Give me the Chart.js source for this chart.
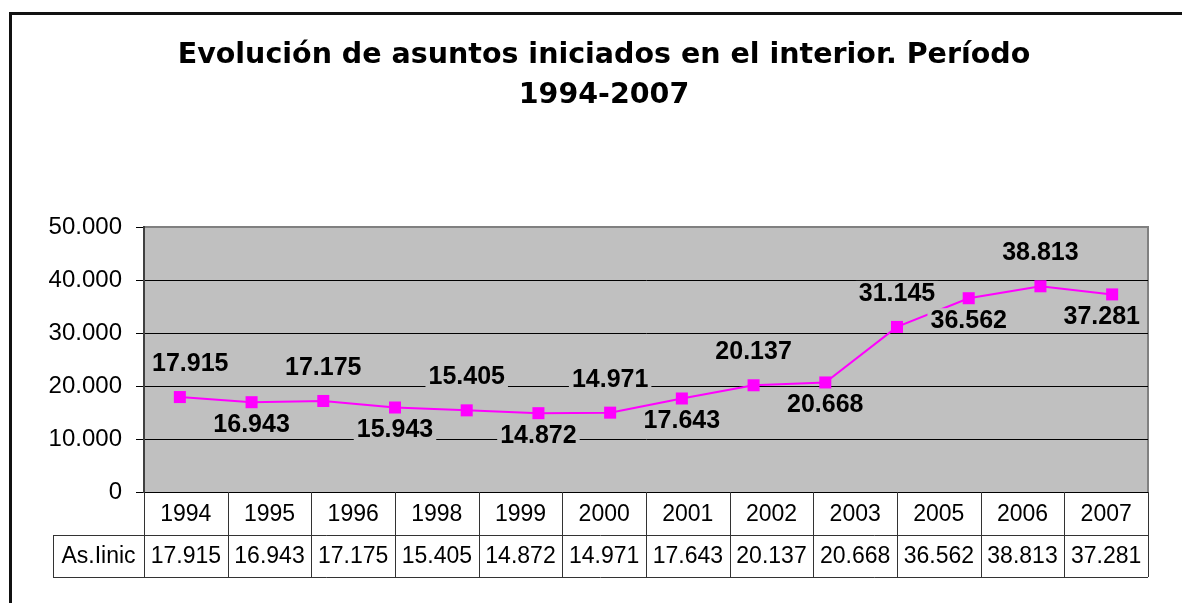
<!DOCTYPE html>
<html>
<head>
<meta charset="utf-8">
<script src="https://cdn.jsdelivr.net/npm/chart.js@4.4.0/dist/chart.umd.min.js"></script>
<style>
  html, body { margin: 0; padding: 0; background: #fff; }
  #myChart { display: block; }
</style>
</head>
<body>
<canvas id="myChart" width="1182" height="603"></canvas>
<script>
// valores de la serie dibujada (14 puntos)
const valoresLinea = [17915, 16943, 17175, 15943, 15405, 14872, 14971, 17643, 20137, 20668, 31145, 36562, 38813, 37281]

// tabla de datos bajo el grafico
const anios = ['1994', '1995', '1996', '1998', '1999', '2000', '2001', '2002', '2003', '2005', '2006', '2007']
const valoresTabla = [17915, 16943, 17175, 15405, 14872, 14971, 17643, 20137, 20668, 36562, 38813, 37281]
const nombreSerie = 'As.Iinic'

const ticksY = [0, 10000, 20000, 30000, 40000, 50000]

const GRIS = '#C0C0C0'
const MAGENTA = '#FF00FF'

function formato(v) {
  return String(v).replace(/\B(?=(\d{3})+(?!\d))/g, '.')
}

const ctx = document.getElementById('myChart').getContext('2d')

// fondo, marco y area gris
const fondo = {
  id: 'fondo',
  beforeDraw(chart) {
    const c = chart.ctx
    const a = chart.chartArea
    c.save()
    c.fillStyle = '#fff'
    c.fillRect(0, 0, chart.width, chart.height)
    c.strokeStyle = '#111'
    c.lineWidth = 3
    c.beginPath()
    c.moveTo(10.5, chart.height)
    c.lineTo(10.5, 13.5)
    c.lineTo(chart.width, 13.5)
    c.stroke()
    c.fillStyle = GRIS
    c.fillRect(a.left, a.top, a.right - a.left, a.bottom - a.top)
    c.strokeStyle = '#808080'
    c.lineWidth = 2
    c.beginPath()
    c.moveTo(a.left, a.top)
    c.lineTo(a.right, a.top)
    c.lineTo(a.right, a.bottom)
    c.stroke()
    c.restore()
  }
}

// etiquetas de valor sobre/bajo cada punto
const etiquetas = {
  id: 'etiquetas',
  afterDatasetsDraw(chart) {
    const c = chart.ctx
    const a = chart.chartArea
    const meta = chart.getDatasetMeta(0)
    c.save()
    c.font = 'bold 25px "Liberation Sans", Arial, sans-serif'
    c.textAlign = 'center'
    c.textBaseline = 'middle'
    meta.data.forEach((p, i) => {
      const txt = formato(valoresLinea[i])
      const y = i % 2 === 0 ? p.y - 34 : p.y + 22
      const w = c.measureText(txt).width
      let x = Math.min(p.x, a.right - w / 2 - 8)
      x = Math.max(x, a.left + w / 2 + 8)
      c.fillStyle = GRIS
      c.fillRect(x - w / 2 - 3, y - 12, w + 6, 24)
      c.fillStyle = '#000'
      c.fillText(txt, x, y + 1)
    })
    c.restore()
  }
}

// tabla de datos
const tabla = {
  id: 'tabla',
  afterDraw(chart) {
    const c = chart.ctx
    const a = chart.chartArea
    const cat = chart.scales.cat
    const w = (a.right - a.left) / anios.length
    const fila1 = a.bottom + 43
    const fila2 = a.bottom + 85
    c.save()
    c.strokeStyle = '#333'
    c.lineWidth = 1
    c.beginPath()
    c.moveTo(53, fila1 + 0.5); c.lineTo(a.right, fila1 + 0.5)
    c.moveTo(53, fila2 + 0.5); c.lineTo(a.right, fila2 + 0.5)
    c.moveTo(53.5, fila1); c.lineTo(53.5, fila2)
    for (let i = 0; i <= anios.length; i++) {
      const x = Math.round(a.left + i * w) + 0.5
      c.moveTo(x, a.bottom); c.lineTo(x, fila2)
    }
    c.stroke()
    c.fillStyle = '#000'
    c.font = '23px "Liberation Sans", Arial, sans-serif'
    c.textAlign = 'center'
    c.textBaseline = 'middle'
    const yTxt = (fila1 + fila2) / 2 + 1
    c.fillText(nombreSerie, (53 + a.left) / 2, yTxt)
    valoresTabla.forEach((v, i) => {
      c.fillText(formato(v), cat.getPixelForValue(i), yTxt)
    })
    c.restore()
  }
}

const data = {
  labels: anios,
  datasets: [{
    label: nombreSerie,
    data: valoresLinea.map((v, i) => ({ x: i, y: v })),
    xAxisID: 'x',
    yAxisID: 'y',
    borderColor: MAGENTA,
    backgroundColor: MAGENTA,
    borderWidth: 2,
    pointStyle: 'rect',
    pointRadius: 8.5,
    pointBorderWidth: 0,
    tension: 0
  }]
}

const config = {
  type: 'line',
  data,
  plugins: [fondo, etiquetas, tabla],
  options: {
    responsive: false,
    animation: false,
    layout: { padding: { left: 26, right: 0, top: 0, bottom: 0 } },
    plugins: {
      legend: { display: false },
      tooltip: { enabled: false },
      title: {
        display: true,
        text: ['Evolución de asuntos iniciados en el interior. Período', '1994-2007'],
        color: '#000',
        font: { family: '"DejaVu Sans", sans-serif', size: 28.5, weight: 'bold', lineHeight: 1.4 },
        padding: { top: 36, bottom: 111.2 }
      }
    },
    scales: {
      x: {
        type: 'linear',
        display: false,
        min: -0.5,
        max: anios.length + 1.5
      },
      cat: {
        type: 'category',
        labels: anios,
        position: 'bottom',
        offset: true,
        grid: { display: false, drawTicks: false },
        border: { display: false },
        ticks: {
          color: '#000',
          padding: 9,
          maxRotation: 0,
          font: { family: '"Liberation Sans", Arial, sans-serif', size: 23 }
        },
        afterFit(scale) { scale.height = 111 }
      },
      y: {
        min: 0,
        max: 50000,
        afterBuildTicks(scale) { scale.ticks = ticksY.map(v => ({ value: v })) },
        grid: {
          color: c => c.tick && c.tick.value === 50000 ? '#808080' : '#000',
          lineWidth: 1,
          tickLength: 8,
          tickColor: '#000'
        },
        border: { color: '#404040', width: 2 },
        ticks: {
          color: '#000',
          padding: 14,
          font: { family: '"Liberation Sans", Arial, sans-serif', size: 24 },
          callback: v => formato(v)
        },
        afterFit(scale) { scale.width = 118 }
      },
      // eje vacio a la derecha, solo reserva el margen
      derecha: {
        position: 'right',
        min: 0,
        max: 50000,
        grid: { display: false, drawTicks: false },
        border: { display: false },
        ticks: { display: false },
        afterFit(scale) { scale.width = 34 }
      }
    }
  }
}

const myChart = new Chart(ctx, config)
</script>
</body>
</html>
